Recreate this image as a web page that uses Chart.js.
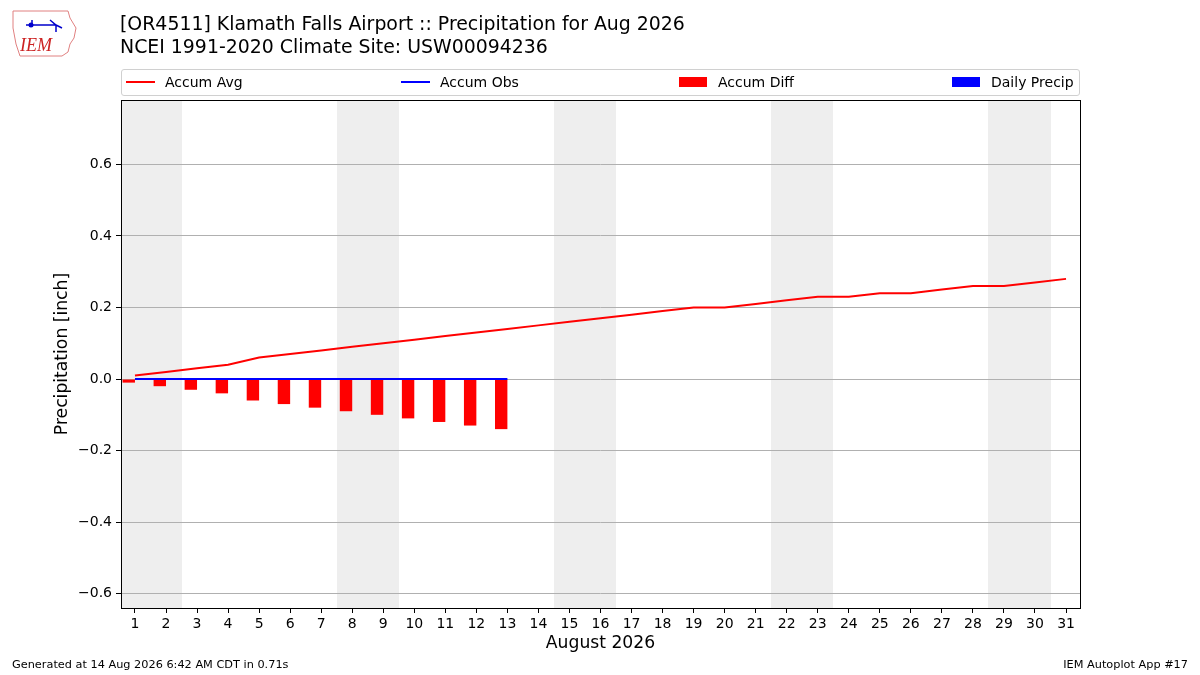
<!DOCTYPE html>
<html>
<head>
<meta charset="utf-8">
<script src="https://cdn.jsdelivr.net/npm/chart.js@4"></script>
<style>
    body { margin: 0; background: #fff; font-family: "DejaVu Sans", sans-serif; }
    #wrap { position: relative; width: 1200px; height: 675px; overflow: hidden; }
    #chart { position: absolute; left: 0; top: 0; }
    .title { position: absolute; left: 120px; font-size: 18.9px; color: #000; white-space: nowrap; }
    .foot { position: absolute; top: 658px; font-size: 11.3px; color: #000; white-space: nowrap; }
    #legend { position: absolute; left: 121px; top: 69px; width: 957px; height: 25px; border: 1px solid #d0d0d0; border-radius: 3px; background: rgba(255,255,255,0.8); }
    .item { position: absolute; top: 4px; font-size: 14px; line-height: 16px; white-space: nowrap; }
    .line { position: absolute; top: 7px; height: 2px; width: 29px; }
    .patch { position: absolute; top: 3px; height: 10px; width: 28px; }
    #logo { position: absolute; left: 10px; top: 8px; width: 68px; height: 50px; }
</style>
</head>
<body>
<div id="wrap">
    <canvas id="chart" width="1200" height="675"></canvas>
    <svg id="logo" viewBox="0 0 68 50">
        <path d="M3 3 L58 3 L60 10 L66 20 L64 30 L60 36 L58 44 L52 48 L10 48 L6 36 L3 20 Z" fill="none" stroke="#e08080" stroke-width="1"/>
        <path d="M16 17 L46 17 M22 17 L22 12 M40 12 L46 17 L52 20 M46 17 L46 24" stroke="#0000cc" stroke-width="1.5" fill="none"/>
        <circle cx="21" cy="17" r="2.5" fill="#0000cc"/>
        <text x="10" y="43" font-family="Liberation Serif" font-style="italic" font-size="18" fill="#cc2222">IEM</text>
    </svg>
    <div class="title" style="top:12px">[OR4511] Klamath Falls Airport :: Precipitation for Aug 2026</div>
    <div class="title" style="top:35px">NCEI 1991-2020 Climate Site: USW00094236</div>
    <div id="legend"></div>
    <div class="foot" style="left:12px">Generated at 14 Aug 2026 6:42 AM CDT in 0.71s</div>
    <div class="foot" style="right:12px">IEM Autoplot App #17</div>
</div>
<script>
// Days of the month and observed days
let days = [1, 2, 3, 4, 5, 6, 7, 8, 9, 10, 11, 12, 13, 14, 15, 16, 17, 18, 19, 20, 21, 22, 23, 24, 25, 26, 27, 28, 29, 30, 31];
let obsDays = [1, 2, 3, 4, 5, 6, 7, 8, 9, 10, 11, 12, 13];
let weekendDays = [1, 2, 8, 9, 15, 16, 22, 23, 29, 30];

// Series values (inches)
let accumAvg = [0.01, 0.02, 0.03, 0.04, 0.06, 0.07, 0.08, 0.09, 0.10, 0.11, 0.12, 0.13, 0.14, 0.15, 0.16, 0.17, 0.18, 0.19, 0.20, 0.20, 0.21, 0.22, 0.23, 0.23, 0.24, 0.24, 0.25, 0.26, 0.26, 0.27, 0.28];
let accumObs = [0, 0, 0, 0, 0, 0, 0, 0, 0, 0, 0, 0, 0];
let accumDiff = [-0.01, -0.02, -0.03, -0.04, -0.06, -0.07, -0.08, -0.09, -0.10, -0.11, -0.12, -0.13, -0.14];
let dailyPrecip = [0, 0, 0, 0, 0, 0, 0, 0, 0, 0, 0, 0, 0];

// Y tick labels
let yTicks = [-0.6, -0.4, -0.2, 0.0, 0.2, 0.4, 0.6];

let legendItems = [
    { label: 'Accum Avg', color: '#ff0000', kind: 'line', left: 4 },
    { label: 'Accum Obs', color: '#0000ff', kind: 'line', left: 279 },
    { label: 'Accum Diff', color: '#ff0000', kind: 'patch', left: 557 },
    { label: 'Daily Precip', color: '#0000ff', kind: 'patch', left: 830 }
];

function pairs(xs, ys) {
    return xs.map((x, i) => ({ x: x, y: ys[i] }));
}

// Build the legend box
function buildLegend() {
    let box = document.getElementById('legend');
    for (let item of legendItems) {
        let cls = item.kind === 'line' ? 'line' : 'patch';
        box.innerHTML += `
            <div class="item" style="left:${item.left}px">
                <span class="${cls}" style="left:0;background:${item.color}"></span>
                <span style="position:absolute;left:39px">${item.label}</span>
            </div>`;
    }
}

// Weekend shading behind everything, frame on top
let shadePlugin = {
    id: 'shade',
    beforeDraw(chart) {
        let ctx = chart.ctx;
        let area = chart.chartArea;
        let x = chart.scales.x;
        ctx.save();
        ctx.fillStyle = '#eeeeee';
        for (let d of weekendDays) {
            let x0 = Math.round(Math.max(x.getPixelForValue(d - 0.5), area.left));
            let x1 = Math.round(Math.min(x.getPixelForValue(d + 0.5), area.right));
            ctx.fillRect(x0, area.top, x1 - x0, area.bottom - area.top);
        }
        ctx.restore();
    },
    afterDraw(chart) {
        let ctx = chart.ctx;
        let a = chart.chartArea;
        ctx.save();
        ctx.strokeStyle = '#000';
        ctx.lineWidth = 1;
        ctx.strokeRect(Math.round(a.left) + 0.5, Math.round(a.top) + 0.5, Math.round(a.right - a.left), Math.round(a.bottom - a.top));
        ctx.restore();
    }
};

function minusSign(v) {
    let s = Math.abs(v).toFixed(1);
    return v < -0.0001 ? '\u2212' + s : s;
}

function drawChart() {
    let ctx = document.getElementById('chart').getContext('2d');
    Chart.defaults.font.family = '"DejaVu Sans", sans-serif';
    Chart.defaults.color = '#000';
    new Chart(ctx, {
        type: 'bar',
        data: {
            datasets: [
                {
                    type: 'bar',
                    label: 'Accum Diff',
                    data: pairs(obsDays, accumDiff),
                    backgroundColor: '#ff0000',
                    categoryPercentage: 0.8,
                    barPercentage: 1.0,
                    order: 3
                },
                {
                    type: 'bar',
                    label: 'Daily Precip',
                    data: pairs(obsDays, dailyPrecip),
                    backgroundColor: '#0000ff',
                    categoryPercentage: 0.8,
                    barPercentage: 1.0,
                    order: 3
                },
                {
                    type: 'line',
                    label: 'Accum Obs',
                    data: pairs(obsDays, accumObs),
                    borderColor: '#0000ff',
                    borderWidth: 2,
                    pointRadius: 0,
                    order: 2
                },
                {
                    type: 'line',
                    label: 'Accum Avg',
                    data: pairs(days, accumAvg),
                    borderColor: '#ff0000',
                    borderWidth: 2,
                    pointRadius: 0,
                    order: 1
                }
            ]
        },
        options: {
            responsive: false,
            animation: false,
            layout: { padding: { left: 48, right: 120, top: 100, bottom: 17 } },
            plugins: { legend: { display: false }, tooltip: { enabled: false } },
            scales: {
                x: {
                    type: 'linear',
                    min: 0.55,
                    max: 31.45,
                    offset: false,
                    afterBuildTicks: (s) => { s.ticks = days.map(d => ({ value: d })); },
                    afterFit: (s) => { s.height = 50; },
                    grid: { offset: false, drawOnChartArea: false, tickLength: 5, tickColor: '#000', color: '#000' },
                    border: { display: false },
                    ticks: { font: { size: 14 }, padding: 3, maxRotation: 0, autoSkip: false, callback: (v) => String(v) },
                    title: { display: true, text: 'August 2026', font: { size: 17.2 }, padding: { top: 4, bottom: 4 } }
                },
                y: {
                    min: -0.64,
                    max: 0.78,
                    afterBuildTicks: (s) => { s.ticks = yTicks.map(v => ({ value: v })); },
                    afterFit: (s) => { s.width = 73; },
                    grid: { color: '#b0b0b0', tickColor: '#000', tickLength: 5, lineWidth: 1 },
                    border: { display: false },
                    ticks: { font: { size: 14 }, padding: 4, callback: (v) => minusSign(v) },
                    title: { display: true, text: 'Precipitation [inch]', font: { size: 17.2 }, padding: { top: 4, bottom: 4 } }
                }
            }
        },
        plugins: [shadePlugin]
    });
}

buildLegend();
drawChart();
</script>
</body>
</html>
